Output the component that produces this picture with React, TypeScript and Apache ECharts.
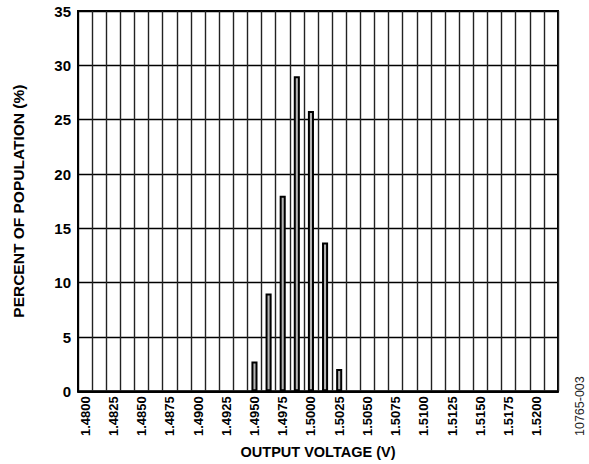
import React, { useEffect, useRef } from "react";
import * as echarts from "echarts";

const binCenters = [
  "1.4800", "1.48125", "1.4825", "1.48375", "1.4850", "1.48625", "1.4875", "1.48875",
  "1.4900", "1.49125", "1.4925", "1.49375", "1.4950", "1.49625", "1.4975", "1.49875",
  "1.5000", "1.50125", "1.5025", "1.50375", "1.5050", "1.50625", "1.5075", "1.50875",
  "1.5100", "1.51125", "1.5125", "1.51375", "1.5150", "1.51625", "1.5175", "1.51875",
  "1.5200", "1.52125",
];

const percentValues = [
  0, 0, 0, 0, 0, 0, 0, 0,
  0, 0, 0, 0, 2.75, 9, 18, 29,
  25.8, 13.7, 2.05, 0, 0, 0, 0, 0,
  0, 0, 0, 0, 0, 0, 0, 0,
  0, 0,
];

const yTicks = { min: 0, max: 35, interval: 5 };

const FONT = "'Liberation Sans', Arial, Helvetica, sans-serif";

export default function App() {
  const ref = useRef<HTMLDivElement>(null);
  useEffect(() => {
    if (!ref.current) return;
    const chart = echarts.init(ref.current, null, { renderer: "svg" });
    chart.setOption({
      animation: false,
      backgroundColor: "#ffffff",
      grid: {
        left: 78,
        right: 31,
        top: 11,
        bottom: 70,
        show: true,
        borderColor: "#000",
        borderWidth: 2,
        backgroundColor: "transparent",
      },
      xAxis: {
        type: "category",
        data: binCenters,
        boundaryGap: true,
        name: "OUTPUT VOLTAGE (V)",
        nameLocation: "middle",
        nameGap: 52,
        nameTextStyle: { fontFamily: FONT, fontWeight: "bold", fontSize: 14.5, color: "#000" },
        axisLine: { show: true, lineStyle: { color: "#000", width: 2 } },
        axisTick: { show: false },
        axisLabel: {
          interval: 1,
          rotate: 90,
          margin: 5,
          fontFamily: FONT,
          fontWeight: "bold",
          fontSize: 13,
          color: "#000",
        },
        splitLine: { show: true, interval: 0, lineStyle: { color: "#222", width: 1.4 } },
      },
      yAxis: {
        type: "value",
        min: yTicks.min,
        max: yTicks.max,
        interval: yTicks.interval,
        name: "PERCENT OF POPULATION (%)",
        nameLocation: "middle",
        nameGap: 52,
        nameTextStyle: { fontFamily: FONT, fontWeight: "bold", fontSize: 15.5, color: "#000" },
        axisLine: { show: true, lineStyle: { color: "#000", width: 2 } },
        axisTick: { show: false },
        axisLabel: { margin: 7, fontFamily: FONT, fontWeight: "bold", fontSize: 15, color: "#000" },
        splitLine: { show: true, lineStyle: { color: "#000", width: 1.4 } },
      },
      graphic: [
        {
          type: "text",
          x: 573,
          y: 436,
          rotation: Math.PI / 2,
          style: {
            text: "10765-003",
            fontFamily: FONT,
            fontSize: 12.5,
            fill: "#222",
          },
        },
      ],
      series: [
        {
          type: "bar",
          barWidth: "43%",
          data: percentValues.map((v) => (v === 0 ? "-" : v)),
          itemStyle: { color: "#b4b4b4", borderColor: "#000", borderWidth: 2 },
          z: 3,
        },
      ],
    });
    return () => chart.dispose();
  }, []);
  return (
    <div
      ref={ref}
      style={{ position: "absolute", left: 0, top: 0, width: 589, height: 464 }}
    />
  );
}
